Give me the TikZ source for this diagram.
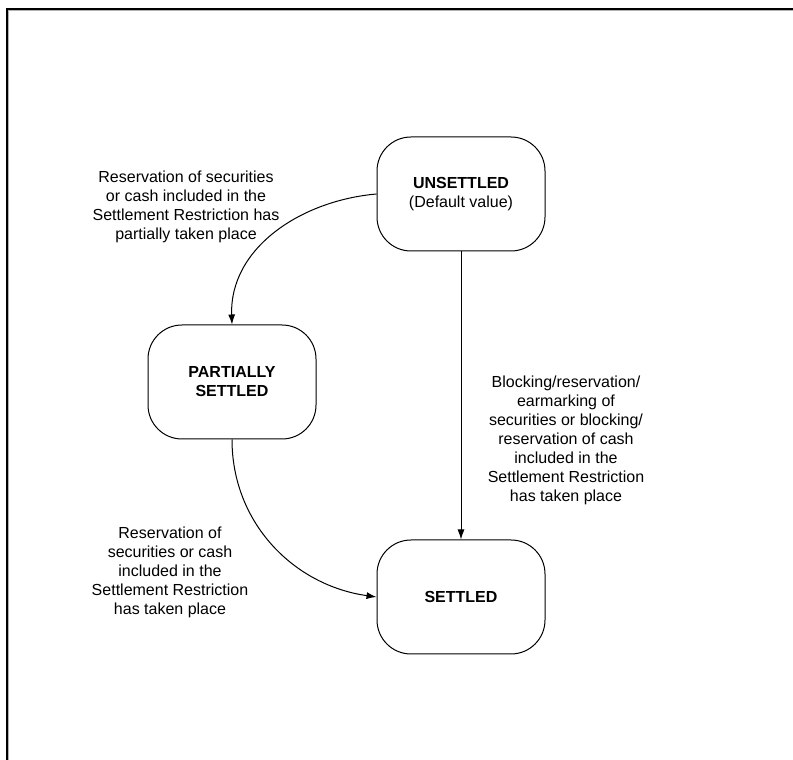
\documentclass[tikz,border=0pt]{standalone}
\usepackage{fontspec}
\setmainfont{Liberation Sans}
\usetikzlibrary{arrows.meta}

\begin{document}
\begin{tikzpicture}[
    x = 1pt, y = 1pt,
    >=Latex,
    state/.style = {
        rectangle, rounded corners = 34pt,
        minimum width = 168pt, minimum height = 114pt,
        draw, line width = 1pt, align = center,
        font = \fontsize{16}{19}\selectfont
    },
    note/.style = {
        align = center, inner sep = 0pt,
        font = \fontsize{16}{19}\selectfont
    },
    arrow/.style = {line width = 1pt, -{Latex[length = 10pt, width = 7pt]}}
]

\useasboundingbox (0,0) rectangle (793,760);

% --- Page frame ---
\draw[line width = 1.2pt] (7,0) -- (7,751) -- (793,751);
\draw[gray!60, line width = 0.8pt] (8.6,0) -- (8.6,749.4) -- (793,749.4);

% --- States ---
\node[state] (unsettled) at (461, 566) {\textbf{UNSETTLED}\\(Default value)};

\node[state] (partial)   at (232, 378) {\textbf{PARTIALLY}\\\textbf{SETTLED}};

\node[state] (settled)   at (461, 163) {\textbf{SETTLED}};

% --- Transition texts ---
\node[note] (toPartial) at (186, 553) {Reservation of securities\\or cash included in the\\Settlement Restriction has\\partially taken place};

\node[note] (toSettled) at (566, 320) {Blocking/reservation/\\earmarking of\\securities or blocking/\\reservation of cash\\included in the\\Settlement Restriction\\has taken place};

\node[note] (fromPartial) at (170, 188) {Reservation of\\securities or cash\\included in the\\Settlement Restriction\\has taken place};

% --- Transitions ---
\draw[arrow] (unsettled.west) to[out=185, in=92] (partial.north);

\draw[arrow] (unsettled) -- (settled);

\draw[arrow] (partial.south) to[out=-90, in=172] (settled.west);

\end{tikzpicture}
\end{document}
